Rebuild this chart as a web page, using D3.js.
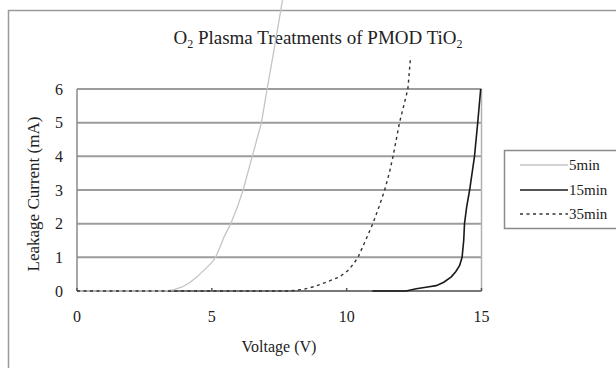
<!DOCTYPE html>
<meta charset="utf-8">
<script src="https://d3js.org/d3.v7.min.js"></script>
<style>
  body { margin: 0; background: #fff; }
  text { font-family: "Liberation Serif", "Times New Roman", serif; fill: #222; }
</style>
<div id="chart"></div>
<script>

// values: voltage (V) and leakage current (mA)
var volt5  = [0, 3.3, 3.6, 3.9, 4.2, 4.45, 4.75, 5.0, 5.14, 5.3, 5.45, 5.7, 5.95, 6.16, 6.33, 6.5, 6.84, 7.05, 7.27, 7.62];
var amp5   = [0, 0, 0.04, 0.12, 0.26, 0.42, 0.65, 0.85, 1.0, 1.3, 1.6, 2.0, 2.5, 3.0, 3.5, 4.0, 5.0, 6.0, 7.0, 8.64];
var volt15 = [10.95, 12.2, 12.58, 13.0, 13.32, 13.6, 13.88, 14.05, 14.19, 14.28, 14.34, 14.37, 14.45, 14.56, 14.74, 14.86, 14.97];
var amp15  = [0, 0, 0.065, 0.12, 0.16, 0.26, 0.42, 0.58, 0.76, 1.0, 1.5, 2.0, 2.5, 3.0, 4.0, 5.0, 6.0];
var volt35 = [0, 7.9, 8.4, 8.8, 9.2, 9.55, 9.74, 10.05, 10.25, 10.42, 10.7, 10.97, 11.2, 11.41, 11.58, 11.72, 11.96, 12.27, 12.37];
var amp35  = [0, 0, 0.05, 0.13, 0.25, 0.36, 0.42, 0.61, 0.8, 1.0, 1.5, 2.0, 2.5, 3.0, 3.5, 4.0, 5.0, 6.0, 6.96];

var seriesNames = ["5min", "15min", "35min"];
var xTicks = [0, 5, 10, 15];
var yTicks = [0, 1, 2, 3, 4, 5, 6];

var width = 616, height = 368;

var svg = d3.select("#chart")
  .append("svg")
    .attr("width", width)
    .attr("height", height);

// outer frame (runs off the right and bottom edge like the picture)
svg.append("rect")
  .attr("x", 8.5).attr("y", 10.5)
  .attr("width", 700).attr("height", 400)
  .attr("fill", "none")
  .attr("stroke", "#9a9a9a")
  .attr("stroke-width", 1.5);

var x = d3.scaleLinear().domain([0, 15]).range([77, 481.5]);
var y = d3.scaleLinear().domain([0, 6]).range([291, 89]);

// gridlines
svg.append("g")
  .selectAll("line")
  .data(yTicks.slice(1))
  .enter()
  .append("line")
    .attr("x1", x(0)).attr("x2", x(15))
    .attr("y1", function(d) { return y(d); })
    .attr("y2", function(d) { return y(d); })
    .attr("stroke", "#9c9c9c")
    .attr("stroke-width", 2);

// plot border
svg.append("line")
  .attr("x1", x(0)).attr("x2", x(0)).attr("y1", y(0)).attr("y2", y(6))
  .attr("stroke", "#8a8a8a").attr("stroke-width", 1.5);
svg.append("line")
  .attr("x1", x(15)).attr("x2", x(15)).attr("y1", y(0)).attr("y2", y(6))
  .attr("stroke", "#b0b0b0").attr("stroke-width", 1.5);
svg.append("line")
  .attr("x1", x(0)).attr("x2", x(15)).attr("y1", y(0)).attr("y2", y(0))
  .attr("stroke", "#777").attr("stroke-width", 2);

// small inside ticks on the x axis
svg.append("g")
  .selectAll("line")
  .data(xTicks)
  .enter()
  .append("line")
    .attr("x1", function(d) { return x(d); })
    .attr("x2", function(d) { return x(d); })
    .attr("y1", y(0)).attr("y2", y(0) - 3)
    .attr("stroke", "#555").attr("stroke-width", 1.5);

// tick labels
svg.append("g")
  .selectAll("text")
  .data(xTicks)
  .enter()
  .append("text")
    .attr("x", function(d) { return x(d); })
    .attr("y", 322)
    .attr("text-anchor", "middle")
    .style("font-size", "16px")
    .text(function(d) { return d; });

svg.append("g")
  .selectAll("text")
  .data(yTicks)
  .enter()
  .append("text")
    .attr("x", 63)
    .attr("y", function(d) { return y(d) + 5.5; })
    .attr("text-anchor", "end")
    .style("font-size", "16px")
    .text(function(d) { return d; });

// axis titles
svg.append("text")
  .attr("x", 279).attr("y", 352)
  .attr("text-anchor", "middle")
  .style("font-size", "16px")
  .text("Voltage (V)");

svg.append("text")
  .attr("transform", "translate(38.5,194) rotate(-90)")
  .attr("text-anchor", "middle")
  .style("font-size", "17px")
  .text("Leakage Current (mA)");

// title with subscripts
var title = svg.append("text")
  .attr("x", 318).attr("y", 43.5)
  .attr("text-anchor", "middle")
  .style("font-size", "19px");
title.append("tspan").text("O");
title.append("tspan").attr("dy", 4).style("font-size", "12px").text("2");
title.append("tspan").attr("dy", -4).text(" Plasma Treatments of PMOD TiO");
title.append("tspan").attr("dy", 4).style("font-size", "12px").text("2");

// series lines
var line = d3.line()
  .x(function(d) { return x(d[0]); })
  .y(function(d) { return y(d[1]); });

var styles = {
  "5min":  { stroke: "#c4c4c4", width: 1.3, dash: null },
  "15min": { stroke: "#1a1a1a", width: 1.6, dash: null },
  "35min": { stroke: "#333", width: 1.4, dash: "3,3.5" }
};

var series = [
  { name: "5min",  pts: d3.zip(volt5, amp5) },
  { name: "35min", pts: d3.zip(volt35, amp35) },
  { name: "15min", pts: d3.zip(volt15, amp15) }
];

svg.append("g")
  .selectAll("path")
  .data(series)
  .enter()
  .append("path")
    .attr("d", function(d) { return line(d.pts); })
    .attr("fill", "none")
    .attr("stroke", function(d) { return styles[d.name].stroke; })
    .attr("stroke-width", function(d) { return styles[d.name].width; })
    .attr("stroke-dasharray", function(d) { return styles[d.name].dash; });

// legend
svg.append("rect")
  .attr("x", 504.5).attr("y", 150.5)
  .attr("width", 200).attr("height", 78)
  .attr("fill", "#fff")
  .attr("stroke", "#8a8a8a")
  .attr("stroke-width", 1.5);

var legendY = [165, 190, 214];
var lg = svg.append("g")
  .selectAll("g")
  .data(seriesNames)
  .enter()
  .append("g")
    .attr("transform", function(d, i) { return "translate(0," + legendY[i] + ")"; });

lg.append("line")
  .attr("x1", 520).attr("x2", 568)
  .attr("stroke", function(d) { return styles[d].stroke; })
  .attr("stroke-width", function(d) { return styles[d].width; })
  .attr("stroke-dasharray", function(d) { return styles[d].dash; });

lg.append("text")
  .attr("x", 569).attr("y", 5)
  .style("font-size", "15px")
  .text(function(d) { return d; });

</script>
